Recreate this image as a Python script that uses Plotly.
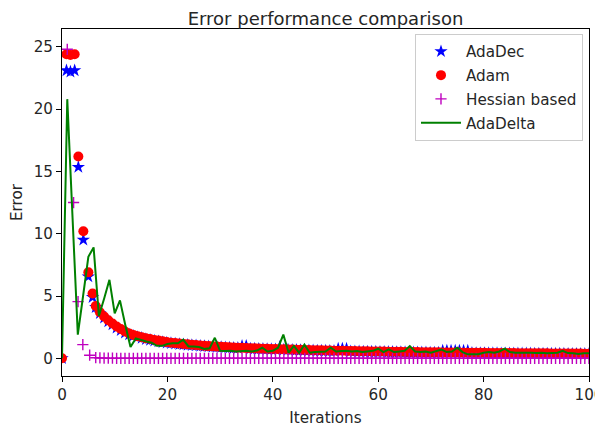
import numpy as np
import plotly.graph_objects as go

# ---------------- data ----------------
# shared iteration grid for the marker series after the initial transient
tail_x = list(np.linspace(6.4, 100, 119))

adam_head_x = [0, 0.85, 1.6, 2.4, 3.1, 4.05, 5.0, 5.8]
adam_head_y = [0.0, 24.4, 24.35, 24.4, 16.2, 10.2, 6.9, 5.2]
adam_tail_y = [
    4.2, 3.7, 3.35, 3.05, 2.8, 2.55, 2.35, 2.15, 2.0, 1.88,
    1.78, 1.7, 1.6, 1.55, 1.47, 1.42, 1.36, 1.3, 1.25, 1.22,
    1.18, 1.15, 1.12, 1.09, 1.06, 1.03, 1.0, 0.98, 0.96, 0.94,
    0.92, 0.9, 0.88, 0.87, 0.85, 0.84, 0.82, 0.81, 0.8, 0.78,
    0.77, 0.76, 0.75, 0.74, 0.73, 0.72, 0.71, 0.7, 0.69, 0.68,
    0.67, 0.66, 0.65, 0.64, 0.64, 0.63, 0.62, 0.61, 0.6, 0.6,
    0.59, 0.58, 0.58, 0.57, 0.56, 0.56, 0.55, 0.55, 0.54, 0.54,
    0.53, 0.53, 0.52, 0.52, 0.51, 0.51, 0.5, 0.5, 0.49, 0.49,
    0.48, 0.48, 0.48, 0.47, 0.47, 0.46, 0.46, 0.46, 0.45, 0.45,
    0.45, 0.44, 0.44, 0.44, 0.43, 0.43, 0.43, 0.42, 0.42, 0.42,
    0.42, 0.41, 0.41, 0.41, 0.41, 0.4, 0.4, 0.4, 0.4, 0.39,
    0.39, 0.39, 0.39, 0.38, 0.38, 0.38, 0.38, 0.37, 0.37,
]

adadec_head_y = [0.0, 23.1, 23.0, 23.1, 15.35, 9.5, 6.55, 4.9]
adadec_tail_y = [
    4.1, 3.6, 3.25, 2.95, 2.7, 2.45, 2.25, 2.05, 1.9, 1.8,
    1.7, 1.62, 1.52, 1.47, 1.4, 1.35, 1.29, 1.24, 1.2, 1.17,
    1.13, 1.1, 1.07, 1.05, 1.02, 0.99, 0.97, 0.94, 0.92, 0.9,
    0.88, 0.86, 0.85, 0.83, 0.82, 0.98, 0.99, 0.77, 0.76, 0.75,
    0.74, 0.73, 0.72, 0.71, 0.9, 0.69, 0.68, 0.67, 0.66, 0.65,
    0.64, 0.63, 0.62, 0.61, 0.61, 0.6, 0.59, 0.58, 0.76, 0.77,
    0.76, 0.55, 0.55, 0.54, 0.53, 0.53, 0.52, 0.52, 0.51, 0.51,
    0.5, 0.5, 0.49, 0.49, 0.48, 0.48, 0.47, 0.47, 0.46, 0.46,
    0.45, 0.45, 0.45, 0.6, 0.61, 0.6, 0.6, 0.61, 0.6, 0.6,
    0.42, 0.41, 0.41, 0.41, 0.4, 0.4, 0.4, 0.39, 0.39, 0.39,
    0.39, 0.38, 0.38, 0.38, 0.38, 0.37, 0.37, 0.37, 0.37, 0.36,
    0.36, 0.36, 0.36, 0.35, 0.35, 0.35, 0.35, 0.34, 0.34,
]

hessian_head_x = [1.0, 2.2, 3.05, 3.95, 5.25]
hessian_head_y = [24.8, 12.5, 4.55, 1.1, 0.25]
hessian_tail_y = [
    0.05, 0.03, 0.02, 0.01, 0.01, 0.0, 0.0, 0.0, 0.0, 0.0,
    0.0, 0.0, 0.0, 0.0, 0.0, 0.0, 0.0, 0.0, 0.0, 0.0,
    0.0, 0.0, 0.0, 0.0, 0.0, 0.0, 0.0, 0.0, 0.0, 0.0,
    0.0, 0.0, 0.0, 0.0, 0.0, 0.0, 0.0, 0.0, 0.0, 0.0,
    0.0, 0.0, 0.0, 0.0, 0.0, 0.0, 0.0, 0.0, 0.0, 0.0,
    0.0, 0.0, 0.0, 0.0, 0.0, 0.0, 0.0, 0.0, 0.0, 0.0,
    0.0, 0.0, 0.0, 0.0, 0.0, 0.0, 0.0, 0.0, 0.0, 0.0,
    0.0, 0.0, 0.0, 0.0, 0.0, 0.0, 0.0, 0.0, 0.0, 0.0,
    0.0, 0.0, 0.0, 0.0, 0.0, 0.0, 0.0, 0.0, 0.0, 0.0,
    0.0, 0.0, 0.0, 0.0, 0.0, 0.0, 0.0, 0.0, 0.0, 0.0,
    0.0, 0.0, 0.0, 0.0, 0.0, 0.0, 0.0, 0.0, 0.0, 0.0,
    0.0, 0.0, 0.0, 0.0, 0.0, 0.0, 0.0, 0.0, 0.0,
]

adadelta_x = list(range(0, 101))
adadelta_y = [
    0.0, 20.8, 11.3, 1.9, 5.0, 8.15, 8.9, 3.4, 4.8, 6.3,
    3.6, 4.65, 2.7, 0.9, 1.6, 1.45, 1.35, 1.25, 1.0, 1.0,
    1.15, 1.2, 1.2, 1.5, 0.95, 0.95, 0.9, 0.75, 0.8, 1.65,
    0.6, 0.58, 0.6, 0.55, 0.58, 0.6, 0.55, 0.62, 0.85, 0.55,
    0.6, 0.85, 1.9, 0.45, 1.0, 0.45, 1.1, 0.45, 0.5, 0.5,
    0.55, 0.85, 0.55, 0.58, 0.6, 0.55, 0.58, 0.5, 0.55, 0.6,
    0.77, 0.5, 0.72, 0.5, 0.55, 0.6, 0.98, 0.55, 0.5, 0.55,
    0.45, 0.6, 0.7, 0.5, 0.55, 0.85, 0.5, 0.32, 0.35, 0.32,
    0.45, 0.5, 0.45, 0.55, 0.77, 0.5, 0.45, 0.45, 0.5, 0.45,
    0.42, 0.45, 0.4, 0.45, 0.45, 0.6, 0.42, 0.4, 0.35, 0.4,
    0.4,
]

title_text = "Error performance comparison"
x_label = "Iterations"
y_label = "Error"
x_ticks = [0, 20, 40, 60, 80, 100]
y_ticks = [0, 5, 10, 15, 20, 25]

# ---------------- figure ----------------
FONT = "DejaVu Sans"
FS = 15.2
TXT = "#262626"

# The page places the figure 8 px in from the top-left corner (body margin),
# so the figure is 8 px smaller than the window and margins are shifted.
W, H = 595, 420
L, R, T, B = 54, 14, 21, 52

adam_x = adam_head_x + tail_x
fig = go.Figure()
fig.add_trace(go.Scatter(
    x=adam_x, y=adadec_head_y + adadec_tail_y, mode="markers", name="AdaDec",
    legendgroup="a",
    marker=dict(symbol="star", size=10, color="#0000ff", line=dict(width=0)),
))
fig.add_trace(go.Scatter(
    x=adam_x, y=adam_head_y + adam_tail_y, mode="markers", name="Adam",
    legendgroup="b",
    marker=dict(symbol="circle", size=10, color="#ff0000", line=dict(width=0)),
))
fig.add_trace(go.Scatter(
    x=hessian_head_x + tail_x, y=hessian_head_y + hessian_tail_y, mode="markers",
    name="Hessian based", legendgroup="c",
    marker=dict(symbol="cross-thin", size=8, color="#bf00bf",
                line=dict(width=1.4, color="#bf00bf")),
))
fig.add_trace(go.Scatter(
    x=adadelta_x, y=adadelta_y, mode="lines", name="AdaDelta", legendgroup="d",
    line=dict(color="#008000", width=2),
))

fig.update_layout(
    width=W, height=H,
    margin=dict(l=L, r=R, t=T, b=B, autoexpand=False),
    paper_bgcolor="white", plot_bgcolor="white",
    font=dict(family=FONT, size=FS, color=TXT),
    title=dict(text=title_text, x=0.5, xref="paper", xanchor="center",
               y=1 - 10.5 / H, yref="container", yanchor="middle",
               font=dict(family=FONT, size=18, color=TXT)),
    showlegend=True,
    legend=dict(x=0.9886, y=0.9856, xanchor="right", yanchor="top",
                bgcolor="rgba(255,255,255,0.8)", bordercolor="#cccccc",
                borderwidth=1, tracegroupgap=1, itemwidth=40,
                font=dict(family=FONT, size=FS, color=TXT)),
)
fig.update_xaxes(
    range=[0, 100], tickvals=x_ticks, ticktext=[str(v) for v in x_ticks],
    showgrid=False, zeroline=False, showline=True, mirror=True, automargin=False,
    ticklabeloverflow="allow",
    linecolor="black", linewidth=1, ticks="outside", ticklen=5, tickwidth=1,
    tickcolor="black",
    title=dict(text=x_label, font=dict(family=FONT, size=FS, color=TXT), standoff=9),
)
fig.update_yaxes(
    range=[-1.42, 26.43], tickvals=y_ticks, ticktext=[str(v) for v in y_ticks],
    showgrid=False, zeroline=False, showline=True, mirror=True, automargin=False,
    linecolor="black", linewidth=1, ticks="outside", ticklen=5, tickwidth=1,
    tickcolor="black",
    title=dict(text=y_label, font=dict(family=FONT, size=FS, color=TXT), standoff=12),
)

fig.write_html("out.html")
